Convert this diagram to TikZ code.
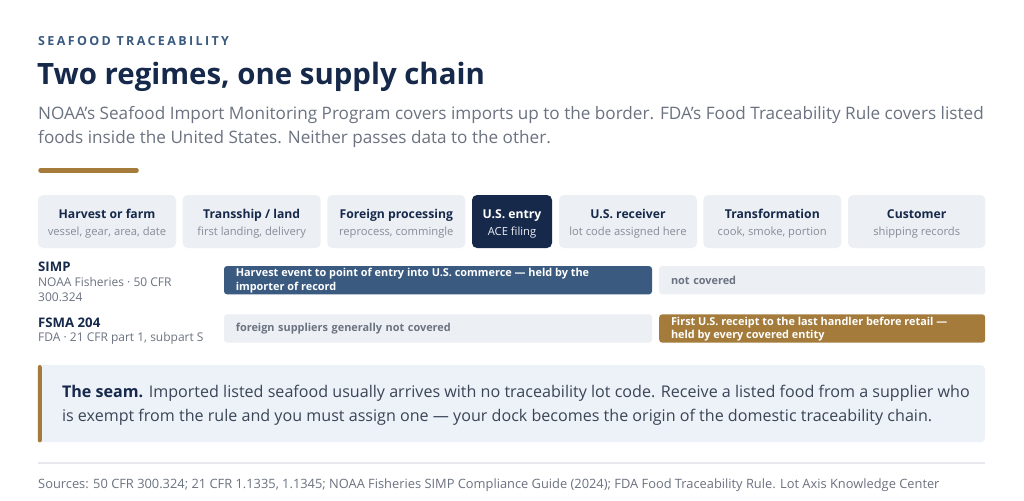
\documentclass[tikz,border=0pt]{standalone}
\usepackage{fontspec}
\setmainfont{Open Sans}
\usetikzlibrary{positioning}
\definecolor{navy}{HTML}{16294A}
\definecolor{slate}{HTML}{3A5A80}
\definecolor{gold}{HTML}{A47B3B}
\definecolor{boxgray}{HTML}{ECEFF4}
\definecolor{seambg}{HTML}{EDF1F8}
\definecolor{txtgray}{HTML}{6B7280}
\definecolor{subgray}{HTML}{868C98}
\definecolor{bodytxt}{HTML}{3B4556}
\definecolor{rulegray}{HTML}{E7E9EE}
\newcommand{\fs}[2]{\fontsize{#1}{#2}\selectfont}
\tikzset{
  stagebox/.style={rounded corners=5pt, minimum height=53pt, inner sep=0pt},
  stagetitle/.style={anchor=base, font=\fs{12.2}{15}\bfseries},
  stagesub/.style={anchor=base, font=\fs{11.2}{14}},
  bar/.style={rounded corners=3pt, minimum height=28.3pt, inner xsep=11.8pt, inner ysep=0pt,
    align=left, font=\fs{10.9}{13.5}\bfseries},
  bartext/.style={anchor=north west, inner sep=0pt, align=left, font=\fs{10.9}{13.5}\bfseries},
  rowname/.style={anchor=base west, inner sep=0pt, text=navy, font=\fs{13.2}{16}\bfseries},
  rowsub/.style={anchor=base west, inner sep=0pt, text=txtgray, font=\fs{12}{14}}
}
\begin{document}
\begin{tikzpicture}[x=1pt,y=-1pt]
  \useasboundingbox[fill=white] (0,0) rectangle (1024,500);

  % header
  \node[anchor=base west, inner sep=0pt, text=slate,
    font=\fs{12.5}{15}\bfseries\addfontfeature{LetterSpace=19}] (kicker) at (38,46) {SEAFOOD TRACEABILITY};
  \node[anchor=base west, inner sep=0pt, text=navy, font=\fs{29.4}{36}\bfseries] (title) at (37,85) {Two regimes, one supply chain};
  \node[anchor=base west, inner sep=0pt, text=txtgray, font=\fs{17.15}{24}] (lede1) at (38,119)
    {NOAA's Seafood Import Monitoring Program covers imports up to the border. FDA's Food Traceability Rule covers listed};
  \node[anchor=base west, inner sep=0pt, text=txtgray, font=\fs{17.15}{24}] (lede2) at (38,143)
    {foods inside the United States. Neither passes data to the other.};
  \draw[gold, line width=4.5pt, line cap=round] (40.5,170.5) -- (136.5,170.5);

  % supply chain stages
  \foreach \cx/\w/\nm/\bg/\tc/\sc/\ttl/\sub in {
      107/138/harvest/boxgray/navy/subgray/{Harvest or farm}/{vessel, gear, area, date},
      251.7/138/transship/boxgray/navy/subgray/{Transship / land}/{first landing, delivery},
      396.3/138/foreign/boxgray/navy/subgray/{Foreign processing}/{reprocess, commingle},
      512/80/entry/navy/white/boxgray/{U.S. entry}/{ACE filing},
      628/138/receiver/boxgray/navy/subgray/{U.S. receiver}/{lot code assigned here},
      772.3/138/transform/boxgray/navy/subgray/{Transformation}/{cook, smoke, portion},
      916.7/137.3/customer/boxgray/navy/subgray/{Customer}/{shipping records}} {
    \node[stagebox, fill=\bg, minimum width=\w] (\nm) at (\cx,221.5) {};
    \node[stagetitle, text=\tc] (\nm-t) at (\cx,218.3) {\ttl};
    \node[stagesub, text=\sc] (\nm-s) at (\cx,235) {\sub};
  }

  % regime rows
  \node[rowname] (simp) at (38,271) {SIMP};
  \node[rowsub] (simp-a) at (38,286) {NOAA Fisheries · 50 CFR};
  \node[rowsub] (simp-b) at (38,301) {300.324};
  \node[rowname] (fsma) at (38,327) {FSMA 204};
  \node[rowsub] (fsma-a) at (38,341) {FDA · 21 CFR part 1, subpart S};

  \node[bar, fill=slate, minimum width=428pt] (simpbar) at (438,280.2) {};
  \node[bartext, text=white] (simpbar-t) at ([xshift=11.8pt,yshift=-2.5pt]simpbar.north west)
    {Harvest event to point of entry into U.S. commerce — held by the\\importer of record};
  \node[bar, fill=boxgray, text=txtgray, minimum width=326pt, text width=302.4pt] (simpnot) at (822.2,280.2)
    {not covered};
  \node[bar, fill=boxgray, text=txtgray, minimum width=428pt, text width=404.4pt] (fsmanot) at (438,328.5)
    {foreign suppliers generally not covered};
  \node[bar, fill=gold, minimum width=326pt] (fsmabar) at (822.2,328.5) {};
  \node[bartext, text=white] (fsmabar-t) at ([xshift=11.8pt,yshift=-2.5pt]fsmabar.north west)
    {First U.S. receipt to the last handler before retail —\\held by every covered entity};

  % the seam
  \node[fill=seambg, rounded corners=4pt, minimum width=947pt, minimum height=77pt, inner sep=0pt] (seam) at (511.5,403.7) {};
  \fill[gold, rounded corners=2pt] (seam.north west) rectangle ([xshift=4pt]seam.south west);
  \node[anchor=west, inner sep=0pt, align=left, text=bodytxt, font=\fs{16.1}{24}] (seamtext) at ([xshift=24pt,yshift=-2pt]seam.west)
    {{\bfseries\color{navy}The seam.} Imported listed seafood usually arrives with no traceability lot code. Receive a listed food from a supplier who\\is exempt from the rule and you must assign one — your dock becomes the origin of the domestic traceability chain.};

  % sources
  \draw[rulegray, line width=1.3pt] (38,463) -- (985,463);
  \node[anchor=base west, inner sep=0pt, text=txtgray, font=\fs{12.85}{16}] (sources) at (38,488)
    {Sources: 50 CFR 300.324; 21 CFR 1.1335, 1.1345; NOAA Fisheries SIMP Compliance Guide (2024); FDA Food Traceability Rule. Lot Axis Knowledge Center};
\end{tikzpicture}
\end{document}
